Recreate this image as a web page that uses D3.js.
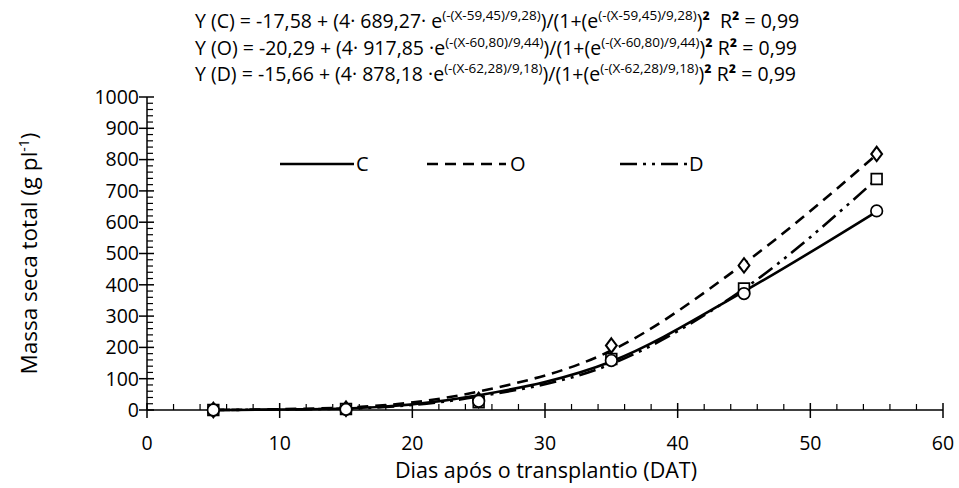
<!DOCTYPE html>
<html>
<head>
<meta charset="utf-8">
<script src="https://cdn.jsdelivr.net/npm/d3@7"></script>
<style>
  html, body { margin: 0; padding: 0; background: #fff; }
  svg { display: block; }
  text { font-family: "Open Sans", Lato, sans-serif; fill: #000; }
</style>
</head>
<body>
<div id="chart"></div>
<script>
// Observed days after transplanting
const days = [5, 15, 25, 35, 45, 55];

// Measured total dry mass (g per plant)
const obsC = [0, 2, 28, 158, 372, 636];
const obsO = [0, 4, 32, 206, 462, 818];
const obsD = [0, 3, 25, 163, 388, 738];

// Fitted curve values at the same days
const fitC = [0, 5, 47, 155, 379, 634];
const fitO = [0, 8, 59, 190, 468, 816];
const fitD = [0, 4.5, 43, 147, 387, 738];

const seriesNames = ["C", "O", "D"];
const xTicks = [0, 10, 20, 30, 40, 50, 60];
const yTicks = [0, 100, 200, 300, 400, 500, 600, 700, 800, 900, 1000];

// Regression equations, split into normal and superscript runs
const equations = [
  { name: "C", a: "-17,58", b: "4· 689,27· e", exp: "(-(X-59,45)/9,28)", gap: "  " },
  { name: "O", a: "-20,29", b: "4· 917,85 ·e", exp: "(-(X-60,80)/9,44)", gap: " " },
  { name: "D", a: "-15,66", b: "4· 878,18 ·e", exp: "(-(X-62,28)/9,18)", gap: " " }
];

const W = 959, H = 488;
const margin = { left: 147, right: 16, top: 97, bottom: 78 };

const svg = d3.select("#chart").append("svg")
  .attr("width", W).attr("height", H);

const x = d3.scaleLinear().domain([0, 60]).range([margin.left, W - margin.right]);
const y = d3.scaleLinear().domain([0, 1000]).range([H - margin.bottom, margin.top]);

// Line styles per treatment
const styles = {
  C: { dash: null },
  O: { dash: "11,7" },
  D: { dash: "17,6,3,6,3,6" }
};

// Axes
const xAxisG = svg.append("g").attr("transform", `translate(0,${y(0)})`);
xAxisG.append("line").attr("x1", x(0)).attr("x2", x(60)).attr("stroke", "#000").attr("stroke-width", 1.5);
// minor ticks every 2 days (inside)
xAxisG.selectAll(".xminor").data(d3.range(0, 61, 2).filter(v => v % 10 !== 0)).enter()
  .append("line").attr("x1", d => x(d)).attr("x2", d => x(d)).attr("y1", 0).attr("y2", -6)
  .attr("stroke", "#000").attr("stroke-width", 1.2);
xAxisG.selectAll(".xmajor").data(xTicks).enter()
  .append("line").attr("x1", d => x(d)).attr("x2", d => x(d)).attr("y1", -7).attr("y2", 8)
  .attr("stroke", "#000").attr("stroke-width", 1.5);
xAxisG.selectAll(".xlab").data(xTicks).enter()
  .append("text").attr("x", d => x(d)).attr("y", 40).attr("text-anchor", "middle")
  .attr("font-size", 19.5).text(d => d);

const yAxisG = svg.append("g").attr("transform", `translate(${x(0)},0)`);
yAxisG.append("line").attr("y1", y(0)).attr("y2", y(1000)).attr("stroke", "#000").attr("stroke-width", 1.5);
// minor ticks every 20 g (inside)
yAxisG.selectAll(".yminor").data(d3.range(0, 1001, 20).filter(v => v % 100 !== 0)).enter()
  .append("line").attr("y1", d => y(d)).attr("y2", d => y(d)).attr("x1", 0).attr("x2", 6)
  .attr("stroke", "#000").attr("stroke-width", 1.2);
yAxisG.selectAll(".ymajor").data(yTicks).enter()
  .append("line").attr("y1", d => y(d)).attr("y2", d => y(d)).attr("x1", -8).attr("x2", 7)
  .attr("stroke", "#000").attr("stroke-width", 1.5);
yAxisG.selectAll(".ylab").data(yTicks).enter()
  .append("text").attr("x", -8).attr("y", d => y(d)).attr("dy", "0.35em").attr("text-anchor", "end")
  .attr("font-size", 19.5).text(d => d);

// Axis titles
svg.append("text").attr("x", 546).attr("y", 478).attr("text-anchor", "middle")
  .attr("font-size", 21.5).text("Dias após o transplantio (DAT)");

const yt = svg.append("text")
  .attr("transform", `translate(37,${(y(0) + y(1000)) / 2}) rotate(-90)`)
  .attr("text-anchor", "middle").attr("font-size", 22.5);
yt.append("tspan").text("Massa seca total (g pl");
yt.append("tspan").attr("font-size", 14).attr("dy", -8).text("-1");
yt.append("tspan").attr("dy", 8).text(")");

// Fitted curves
const fits = { C: fitC, O: fitO, D: fitD };
const obs = { C: obsC, O: obsO, D: obsD };
const line = d3.line().x((d, i) => x(days[i])).y(d => y(d)).curve(d3.curveMonotoneX);

seriesNames.forEach(s => {
  svg.append("path").datum(fits[s]).attr("d", line)
    .attr("fill", "none").attr("stroke", "#000").attr("stroke-width", 2.6)
    .attr("stroke-dasharray", styles[s].dash);
});

// Observed markers
const mk = { C: d3.symbolCircle, O: d3.symbolDiamond, D: d3.symbolSquare };
const mkSize = { C: 105, O: 60, D: 115 };
["D", "O", "C"].forEach(s => {
  svg.selectAll(".m" + s).data(obs[s]).enter().append("path")
    .attr("d", d3.symbol().type(mk[s]).size(mkSize[s]))
    .attr("transform", (d, i) => `translate(${x(days[i])},${y(d)})` + (s === "O" ? " scale(1.3,1)" : ""))
    .attr("fill", "#fff").attr("stroke", "#000").attr("stroke-width", 1.7);
});

// Legend
const legend = [
  { name: "C", x1: 280, x2: 354, tx: 356 },
  { name: "O", x1: 427, x2: 506, tx: 510 },
  { name: "D", x1: 620, x2: 688, tx: 689 }
];
const legY = 164;
legend.forEach(l => {
  svg.append("line").attr("x1", l.x1).attr("x2", l.x2).attr("y1", legY).attr("y2", legY)
    .attr("stroke", "#000").attr("stroke-width", 2.6).attr("stroke-dasharray", styles[l.name].dash);
  svg.append("text").attr("x", l.tx).attr("y", legY).attr("dy", "0.36em")
    .attr("font-size", 20).text(l.name);
});

// Regression equations
equations.forEach((e, i) => {
  const t = svg.append("text").attr("x", 195).attr("y", 28 + i * 26.5)
    .attr("font-size", 19.5).style("white-space", "pre");
  t.append("tspan").text(`Y (${e.name}) = ${e.a} + (${e.b}`);
  t.append("tspan").attr("font-size", 13.5).attr("dy", -8).text(e.exp);
  t.append("tspan").attr("dy", 8).text(")/(1+(e");
  t.append("tspan").attr("font-size", 13.5).attr("dy", -8).text(e.exp);
  t.append("tspan").attr("dy", 8).text(")");
  t.append("tspan").attr("font-weight", "bold").text("²");
  t.append("tspan").text(e.gap + "R");
  t.append("tspan").attr("font-weight", "bold").text("²");
  t.append("tspan").text(" = 0,99");
});
</script>
</body>
</html>
